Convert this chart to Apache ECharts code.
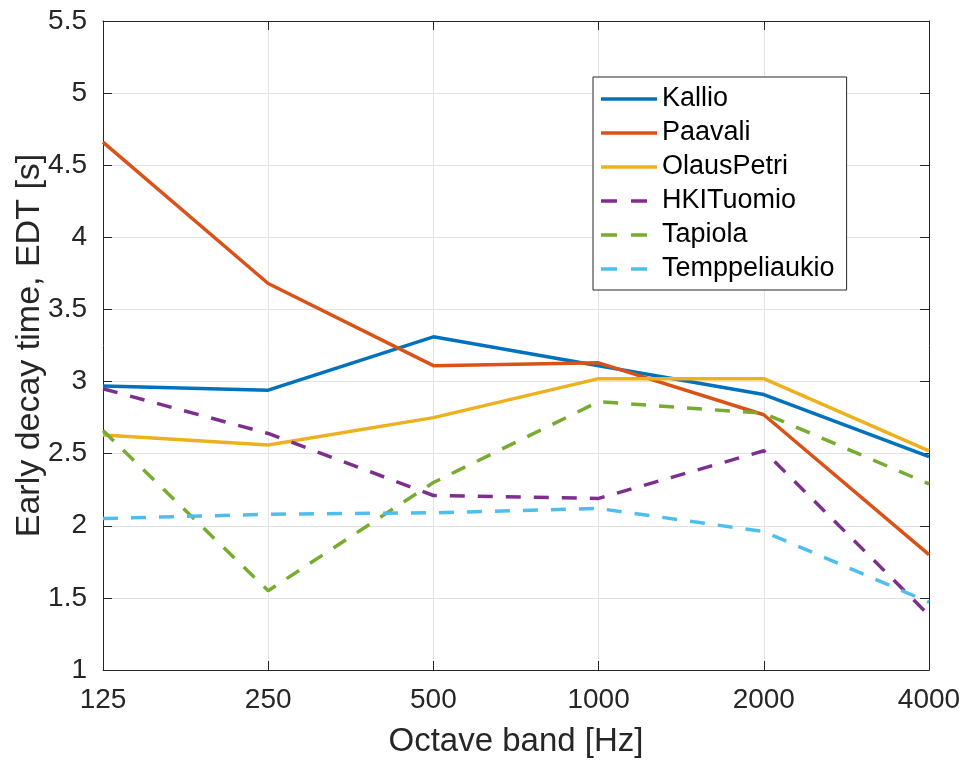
<!DOCTYPE html>
<html>
<head>
<meta charset="utf-8">
<script src="https://cdn.jsdelivr.net/npm/echarts@6/dist/echarts.min.js"></script>
<style>
  html, body { margin: 0; padding: 0; background: #fff; }
  #chart { width: 962px; height: 760px; }
</style>
</head>
<body>
<div id="chart"></div>
<script>
// Octave bands and early decay time (s) per hall
const bands = ['125', '250', '500', '1000', '2000', '4000'];
const kallio = [2.97, 2.94, 3.31, 3.11, 2.91, 2.48];
const paavali = [4.66, 3.68, 3.11, 3.13, 2.77, 1.80];
const olausPetri = [2.63, 2.56, 2.75, 3.02, 3.02, 2.52];
const hkiTuomio = [2.95, 2.64, 2.21, 2.19, 2.52, 1.38];
const tapiola = [2.66, 1.55, 2.30, 2.86, 2.78, 2.29];
const temppeliaukio = [2.05, 2.08, 2.09, 2.12, 1.96, 1.47];

const names = ['Kallio', 'Paavali', 'OlausPetri', 'HKITuomio', 'Tapiola', 'Temppeliaukio'];
const values = [kallio, paavali, olausPetri, hkiTuomio, tapiola, temppeliaukio];
const colors = ['#0072BD', '#D95319', '#EDB120', '#7E2F8E', '#77AC30', '#4DBEEE'];
const dashed = [false, false, false, true, true, true];

const font = 'Liberation Sans, Arial, Helvetica, sans-serif';
const ink = '#262626';
const gridColor = '#e3e3e3';

const chart = echarts.init(document.getElementById('chart'), null, { renderer: 'canvas' });

const series = names.map((n, i) => ({
  name: n,
  type: 'line',
  data: values[i],
  xAxisIndex: 0,
  yAxisIndex: 0,
  symbol: 'none',
  animation: false,
  lineStyle: { color: colors[i], width: 3.5, type: dashed[i] ? [15, 13] : 'solid' },
  itemStyle: { color: colors[i] }
}));

// legend swatches: a solid bar or two dashes
const solidIcon = 'path://M0,0 L56,0 L56,3.5 L0,3.5 Z';
const dashIcon = 'path://M0,0 L16,0 L16,3.5 L0,3.5 Z M30,0 L46,0 L46,3.5 L30,3.5 Z M56,0 L56,3.5 L56,3.5 Z';

chart.setOption({
  backgroundColor: '#fff',
  animation: false,
  grid: { left: 103, right: 33, top: 21, bottom: 90, containLabel: false, outerBoundsMode: 'none' },
  legend: {
    left: 593, top: 77,
    orient: 'vertical',
    itemWidth: 56, itemHeight: 3.5, itemGap: 6,
    padding: [8, 12, 7, 8],
    borderColor: ink, borderWidth: 1,
    backgroundColor: '#fff',
    textStyle: { fontFamily: font, fontSize: 27, lineHeight: 28, color: '#000' },
    data: names.map((n, i) => ({ name: n, icon: dashed[i] ? dashIcon : solidIcon }))
  },
  xAxis: [{
    type: 'category', data: bands, boundaryGap: false, position: 'bottom',
    name: 'Octave band [Hz]', nameLocation: 'middle', nameGap: 55, nameMoveOverlap: false,
    nameTextStyle: { fontFamily: font, fontSize: 33, color: ink },
    axisLine: { lineStyle: { color: ink, width: 1 } },
    axisTick: { inside: true, length: 9, lineStyle: { color: ink } },
    axisLabel: { fontFamily: font, fontSize: 28, color: ink, margin: 16 },
    splitLine: { show: true, lineStyle: { color: gridColor, width: 1 } }
  }, {
    type: 'category', data: bands, boundaryGap: false, position: 'top',
    axisLine: { lineStyle: { color: ink, width: 1 } },
    axisTick: { inside: true, length: 9, lineStyle: { color: ink } },
    axisLabel: { show: false }, splitLine: { show: false }
  }],
  yAxis: [{
    type: 'value', min: 1, max: 5.5, interval: 0.5, position: 'left',
    name: 'Early decay time, EDT [s]', nameLocation: 'middle', nameGap: 56, nameMoveOverlap: false,
    nameTextStyle: { fontFamily: font, fontSize: 34, color: ink },
    axisLine: { show: true, lineStyle: { color: ink, width: 1 } },
    axisTick: { show: true, inside: true, length: 9, lineStyle: { color: ink } },
    axisLabel: { fontFamily: font, fontSize: 28, color: ink, margin: 16 },
    splitLine: { show: true, lineStyle: { color: gridColor, width: 1 } }
  }, {
    type: 'value', min: 1, max: 5.5, interval: 0.5, position: 'right',
    axisLine: { show: true, lineStyle: { color: ink, width: 1 } },
    axisTick: { show: true, inside: true, length: 9, lineStyle: { color: ink } },
    axisLabel: { show: false }, splitLine: { show: false }
  }],
  series: series
});
</script>
</body>
</html>
